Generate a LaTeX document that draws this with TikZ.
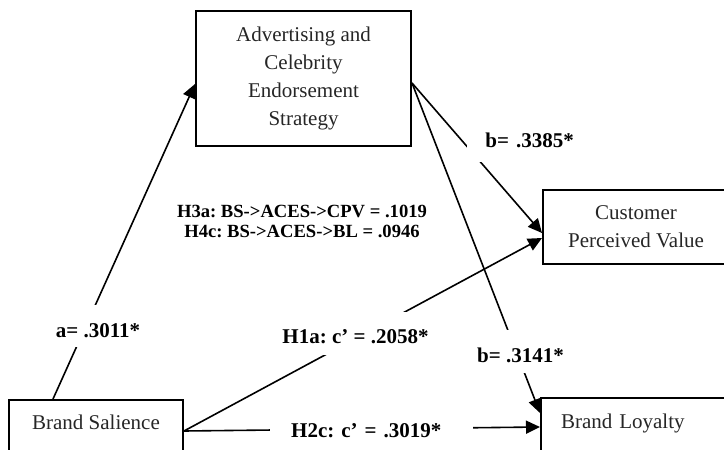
\documentclass[tikz,border=0pt]{standalone}
\usepackage{fontspec}
\setmainfont{Liberation Serif}
\usetikzlibrary{arrows.meta}
\frenchspacing
\begin{document}
\begin{tikzpicture}[x=1pt,y=-1pt,
  box/.style={draw, line width=2pt, inner sep=0pt, font=\fontsize{21}{28}\selectfont, text=black!85, align=center},
  conn/.style={line width=1.6pt, -{Triangle[length=14pt,width=13pt]}},
  lbl/.style={fill=white, inner xsep=2pt, inner ysep=0pt, font=\fontsize{21}{25}\selectfont\bfseries},
  midtext/.style={font=\fontsize{18.6}{20}\selectfont\bfseries, align=center}
]
\useasboundingbox (0,0) rectangle (724,450);
\clip (0,0) rectangle (724,450);

\node[box, minimum width=215pt, minimum height=135pt] (aces) at (303.5,78.5) {Advertising and\\Celebrity\\Endorsement\\Strategy};
\node[box, minimum width=186pt, minimum height=74pt] (cpv) at (636,227) {Customer\\Perceived Value};
\node[box, anchor=north west, minimum width=174pt, text height=29pt, text depth=32pt] (bs) at (8,399) {Brand Salience};
\node[box, anchor=north west, text width=180pt, inner xsep=20pt, align=left, text height=30pt, text depth=33pt] (bl) at (540,397) {Brand Loyalty};

\draw[conn] ([xshift=45pt]bs.north west) -- ([yshift=-5.5pt]aces.west);
\draw[conn] ([yshift=-4.5pt]aces.east) -- ([yshift=-6pt]cpv.west);
\draw[conn] ([yshift=-4.5pt]aces.east) -- ([yshift=-16pt]bl.north west);
\draw[conn] ([yshift=-0.5pt]bs.east) -- ([yshift=-11pt]cpv.west);
\draw[conn] ([yshift=-0.5pt]bs.east) -- ([yshift=-30pt]bl.north west);

\node[lbl, anchor=base, text height=32pt, text depth=10pt] (la) at (98,337) {a= .3011*};
\node[lbl, anchor=base, text height=31pt, text depth=12pt] (lh1a) at (355.5,343) {H1a: c’ = .2058*};
\node[lbl, anchor=base, text height=32pt, text depth=11pt] (lb2) at (520.5,362) {b= .3141*};
\node[lbl, anchor=base east, text width=107pt, align=right, inner xsep=0pt, text height=25pt, text depth=15pt] (lb1) at (574,147) {b= .3385*};
\node[lbl, anchor=base west, text width=203pt, align=left, inner xsep=0pt, text height=20pt, text depth=8pt] (lh2c) at (270,437) {\hspace*{21pt}H2c: c’ = .3019*};
\node[midtext] (ind) at (302,221) {H3a: BS->ACES->CPV = .1019\\H4c: BS->ACES->BL = .0946};
\end{tikzpicture}
\end{document}
